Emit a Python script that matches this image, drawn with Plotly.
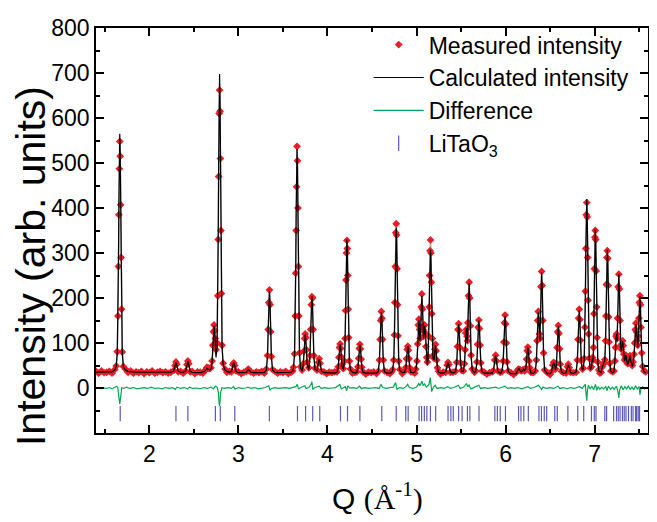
import plotly.graph_objects as go

# Q positions (1/Angstrom) of the refined profile, with measured and calculated intensities
q_fit = [
    1.40, 1.43, 1.46, 1.49, 1.52, 1.55, 1.58, 1.61,
    1.627, 1.639, 1.647, 1.652, 1.657, 1.662, 1.667, 1.672, 1.677, 1.682, 1.687, 1.695, 1.707,
    1.73, 1.76, 1.79, 1.82, 1.85, 1.88, 1.91, 1.94, 1.97, 2.00, 2.03, 2.06, 2.09, 2.12, 2.15, 2.18, 2.21, 2.24,
    2.273, 2.288, 2.298, 2.308, 2.323, 2.35, 2.38, 2.407, 2.422, 2.432, 2.442, 2.457,
    2.48, 2.51, 2.54, 2.57, 2.60, 2.62, 2.636, 2.646, 2.658, 2.670, 2.681,
    2.691, 2.704, 2.712, 2.719, 2.726, 2.733, 2.740, 2.748,
    2.760, 2.768, 2.773, 2.778, 2.783, 2.788, 2.793, 2.798, 2.803, 2.808, 2.816, 2.828,
    2.85, 2.87, 2.90, 2.922, 2.937, 2.947, 2.957, 2.972,
    3.00, 3.03, 3.06, 3.09, 3.102, 3.112, 3.122, 3.14, 3.17, 3.20, 3.23, 3.26, 3.29,
    3.313, 3.326, 3.334, 3.341, 3.348, 3.355, 3.362, 3.370, 3.383,
    3.41, 3.44, 3.47, 3.50, 3.53, 3.56, 3.59, 3.61,
    3.618, 3.630, 3.638, 3.643, 3.648, 3.653, 3.658, 3.663, 3.668, 3.673, 3.678, 3.686, 3.698,
    3.715, 3.728, 3.736, 3.743, 3.750, 3.757, 3.764, 3.772,
    3.790, 3.803, 3.811, 3.818, 3.825, 3.832, 3.839, 3.847, 3.860,
    3.882, 3.897, 3.907, 3.917, 3.932, 3.96, 3.99, 4.02, 4.05, 4.08,
    4.107, 4.120, 4.128, 4.135, 4.142, 4.149, 4.156, 4.164,
    4.178, 4.190, 4.198, 4.203, 4.208, 4.213, 4.218, 4.223, 4.228, 4.233, 4.238, 4.246, 4.258,
    4.28, 4.31, 4.329, 4.342, 4.350, 4.357, 4.364, 4.371, 4.378, 4.386, 4.399,
    4.43, 4.46, 4.49, 4.52, 4.55, 4.570, 4.583, 4.591, 4.598, 4.605, 4.612, 4.619, 4.627, 4.640,
    4.67, 4.70, 4.72, 4.732, 4.744, 4.752, 4.757, 4.762, 4.767, 4.772, 4.777, 4.782, 4.787, 4.792, 4.800, 4.812,
    4.84, 4.867, 4.880, 4.888, 4.895, 4.902, 4.909, 4.916, 4.924, 4.937, 4.96, 4.98, 4.992,
    5.005, 5.013, 5.020, 5.027, 5.034, 5.040, 5.046, 5.053, 5.060, 5.067, 5.073, 5.079, 5.085, 5.092, 5.099, 5.106, 5.114,
    5.122, 5.129, 5.137, 5.142, 5.147, 5.152, 5.157, 5.162, 5.167, 5.172, 5.177, 5.185, 5.197, 5.206, 5.213, 5.220, 5.227, 5.235, 5.248,
    5.27, 5.30, 5.329, 5.344, 5.354, 5.364, 5.379, 5.41,
    5.438, 5.451, 5.459, 5.466, 5.473, 5.480, 5.487, 5.495, 5.508,
    5.525, 5.538, 5.546, 5.553, 5.560, 5.567, 5.572, 5.577, 5.584, 5.591, 5.598, 5.605, 5.613, 5.626,
    5.65, 5.665, 5.678, 5.686, 5.693, 5.700, 5.707, 5.714, 5.722, 5.735,
    5.76, 5.79, 5.82, 5.85, 5.863, 5.878, 5.888, 5.898, 5.913, 5.94,
    5.960, 5.973, 5.981, 5.988, 5.995, 6.002, 6.009, 6.017, 6.030,
    6.06, 6.09, 6.12, 6.140, 6.150, 6.160, 6.175, 6.195, 6.205, 6.215, 6.228, 6.236, 6.243, 6.250, 6.257, 6.264, 6.272, 6.285,
    6.31, 6.333, 6.346, 6.354, 6.361, 6.368, 6.375, 6.381, 6.386, 6.391, 6.398, 6.405, 6.412, 6.419, 6.427, 6.440,
    6.47, 6.50, 6.515, 6.530, 6.540, 6.550, 6.562, 6.571, 6.579, 6.586, 6.593, 6.600, 6.607, 6.615, 6.628,
    6.65, 6.680, 6.695, 6.705, 6.715, 6.730, 6.76,
    6.793, 6.806, 6.814, 6.821, 6.828, 6.835, 6.842, 6.850, 6.863,
    6.872, 6.884, 6.892, 6.897, 6.902, 6.907, 6.912, 6.917, 6.922, 6.927, 6.932, 6.940, 6.952,
    6.965, 6.972, 6.978, 6.983, 6.988, 6.993, 6.998, 7.003, 7.008, 7.013, 7.018, 7.023, 7.028, 7.036, 7.048,
    7.06, 7.073, 7.088, 7.098, 7.108,
    7.115, 7.123, 7.128, 7.133, 7.138, 7.143, 7.148, 7.153, 7.158, 7.163, 7.171, 7.183, 7.205,
    7.218, 7.229, 7.235, 7.241, 7.247, 7.253, 7.258, 7.265, 7.272, 7.279, 7.286, 7.294, 7.301, 7.308, 7.315, 7.322, 7.329, 7.337,
    7.344, 7.352, 7.360, 7.370, 7.380, 7.388, 7.396, 7.404, 7.414, 7.424, 7.432, 7.443, 7.450, 7.457, 7.464, 7.471,
    7.478, 7.485, 7.491, 7.497, 7.503, 7.509, 7.515, 7.521, 7.529, 7.540, 7.555, 7.575,
]

calc = [
    35, 35, 35, 35, 35, 35, 36, 40,
    47, 78, 168, 279, 412, 523, 565, 523, 412, 279, 168, 78, 47,
    40, 37, 36, 35, 35, 35, 35, 35, 35, 35, 35, 35, 35, 35, 35, 35, 35, 35,
    37, 51, 57, 51, 37, 35, 35, 37, 52, 59, 52, 37,
    35, 34, 34, 34, 35, 37, 40, 44, 42, 41, 40,
    42, 55, 88, 122, 138, 122, 89, 68,
    92, 203, 342, 507, 645, 698, 645, 507, 342, 203, 92, 51,
    40, 37, 35, 37, 51, 57, 51, 37,
    34, 34, 34, 35, 39, 41, 39, 35, 34, 34, 34, 34, 34,
    40, 69, 127, 187, 216, 187, 127, 69, 40,
    35, 34, 34, 34, 34, 34, 35, 37,
    44, 74, 158, 263, 387, 491, 531, 491, 387, 263, 158, 74, 44,
    38, 51, 78, 106, 119, 106, 78, 52,
    41, 68, 122, 177, 204, 177, 122, 68, 42,
    38, 56, 64, 56, 38, 34, 34, 33, 33, 33,
    35, 45, 66, 87, 97, 87, 67, 48,
    41, 58, 108, 170, 244, 306, 330, 306, 244, 170, 108, 58, 40,
    35, 33, 35, 45, 65, 86, 96, 86, 65, 45, 35,
    33, 33, 33, 33, 33, 36, 59, 102, 146, 168, 146, 102, 59, 36,
    33, 33, 34, 39, 59, 114, 182, 262, 330, 356, 330, 262, 182, 114, 59, 39,
    34, 35, 44, 63, 83, 93, 83, 63, 44, 35, 34, 35, 40,
    58, 94, 132, 150, 120, 105, 125, 178, 205, 178, 125, 110, 122, 138, 122, 88, 60,
    50, 62, 104, 161, 228, 285, 307, 285, 228, 161, 104, 66, 62, 83, 95, 83, 63, 44, 35,
    33, 33, 36, 50, 57, 50, 36, 33,
    36, 54, 89, 125, 142, 125, 89, 55, 37,
    37, 51, 81, 117, 133, 112, 100, 140, 200, 232, 200, 134, 71, 40,
    34, 37, 55, 93, 131, 150, 131, 93, 55, 37,
    33, 33, 33, 33, 37, 61, 72, 61, 37, 33,
    37, 57, 98, 140, 160, 140, 98, 57, 37,
    32, 32, 32, 40, 43, 40, 36, 39, 42, 39, 43, 62, 81, 90, 81, 62, 43, 34,
    32, 36, 58, 101, 146, 168, 146, 112, 105, 147, 221, 257, 221, 147, 75, 39,
    32, 32, 35, 50, 57, 51, 40, 52, 86, 120, 137, 120, 86, 52, 36,
    32, 34, 46, 52, 46, 34, 32,
    36, 59, 104, 150, 173, 150, 104, 60, 40,
    42, 63, 129, 210, 307, 389, 420, 389, 307, 210, 129, 65, 41,
    45, 60, 66, 58, 85, 160, 258, 325, 352, 325, 258, 178, 112, 57, 38,
    35, 34, 48, 55, 56,
    61, 101, 159, 227, 285, 307, 285, 227, 159, 101, 54, 37, 34,
    36, 57, 84, 109, 120, 105, 150, 218, 253, 218, 145, 90, 82, 95, 104, 92, 72, 60,
    65, 73, 62, 52, 55, 66, 72, 62, 50, 48, 55, 70, 95, 125, 142, 125,
    100, 90, 110, 150, 185, 203, 180, 130, 75, 45, 36, 34,
]

obs = [
    37, 33, 38, 34, 35, 37, 33, 41,
    49, 81, 160, 270, 385, 487, 548, 515, 407, 290, 175, 80, 48,
    42, 35, 38, 33, 36, 34, 37, 32, 36, 34, 38, 33, 35, 37, 34, 36, 33, 35,
    39, 50, 58, 53, 36, 37, 33, 38, 52, 60, 54, 36,
    37, 32, 36, 35, 33, 38, 42, 46, 45, 43, 44,
    45, 60, 95, 125, 140, 128, 110, 85,
    100, 205, 330, 470, 610, 662, 615, 510, 350, 210, 95, 55,
    42, 35, 37, 36, 52, 56, 50, 38,
    36, 32, 35, 37, 40, 42, 38, 36, 33, 36, 34, 37, 33,
    42, 72, 130, 190, 218, 185, 125, 70, 41,
    37, 33, 36, 34, 37, 32, 35, 38,
    46, 76, 160, 255, 350, 447, 537, 505, 400, 270, 160, 78, 47,
    40, 54, 82, 110, 120, 112, 85, 58,
    45, 72, 130, 185, 203, 200, 130, 72, 44,
    40, 57, 65, 55, 37, 36, 32, 35, 34, 36,
    36, 47, 68, 90, 98, 88, 69, 52,
    43, 60, 110, 172, 240, 300, 328, 310, 250, 175, 112, 60, 42,
    33, 35, 36, 47, 66, 88, 97, 87, 64, 46, 36,
    31, 35, 34, 36, 32, 37, 62, 108, 150, 170, 155, 108, 62, 38,
    35, 32, 36, 41, 62, 118, 190, 270, 345, 365, 340, 265, 185, 116, 60, 41,
    32, 37, 46, 65, 86, 93, 84, 65, 45, 36, 36, 33, 42,
    60, 98, 140, 153, 130, 110, 135, 180, 209, 175, 130, 115, 125, 140, 120, 92, 68,
    58, 70, 115, 180, 250, 305, 329, 300, 235, 165, 110, 72, 66, 86, 97, 82, 62, 45, 37,
    31, 35, 35, 51, 57, 52, 35, 35,
    37, 57, 92, 130, 143, 128, 90, 56, 39,
    38, 54, 85, 122, 130, 115, 105, 145, 205, 235, 200, 138, 73, 42,
    35, 38, 58, 97, 135, 151, 132, 95, 56, 38,
    35, 31, 34, 36, 38, 62, 73, 60, 38, 35,
    36, 60, 102, 145, 162, 142, 100, 58, 38,
    34, 30, 35, 41, 42, 41, 38, 40, 41, 38, 44, 64, 83, 91, 80, 60, 45, 35,
    34, 38, 62, 105, 150, 170, 150, 120, 110, 150, 225, 259, 228, 150, 78, 40,
    34, 30, 36, 51, 57, 53, 42, 55, 90, 125, 139, 121, 87, 53, 37,
    34, 33, 47, 53, 45, 35, 34,
    35, 62, 108, 155, 175, 152, 106, 61, 42,
    44, 66, 135, 215, 310, 385, 412, 380, 290, 195, 120, 66, 44,
    47, 63, 68, 62, 90, 165, 265, 335, 350, 330, 260, 180, 112, 58, 40,
    33, 35, 47, 53, 56,
    63, 105, 160, 230, 290, 305, 288, 228, 158, 102, 55, 38, 36,
    38, 60, 90, 115, 120, 110, 155, 225, 253, 220, 150, 95, 86, 98, 105, 94, 75, 62,
    66, 73, 64, 54, 56, 67, 72, 63, 52, 50, 58, 75, 100, 130, 144, 125,
    105, 95, 115, 155, 190, 205, 185, 135, 78, 48, 38, 36,
]

# difference curve (obs - calc), plotted around zero
q_diff = [
    1.40, 1.43, 1.46, 1.49, 1.52, 1.55, 1.58, 1.61, 1.63, 1.645,
    1.655, 1.662, 1.667, 1.672, 1.68, 1.69, 1.71, 1.74, 1.78, 1.82,
    1.86, 1.90, 1.94, 1.98, 2.02, 2.06, 2.10, 2.14, 2.18, 2.22,
    2.26, 2.29, 2.31, 2.35, 2.39, 2.43, 2.45, 2.49, 2.53, 2.57,
    2.61, 2.65, 2.69, 2.72, 2.74, 2.76, 2.775, 2.783, 2.788, 2.793,
    2.80, 2.815, 2.84, 2.88, 2.92, 2.945, 2.96, 3.00, 3.04, 3.08,
    3.11, 3.14, 3.18, 3.22, 3.26, 3.30, 3.34, 3.355, 3.37, 3.41,
    3.45, 3.49, 3.53, 3.57, 3.61, 3.645, 3.66, 3.675, 3.70, 3.745,
    3.76, 3.79, 3.815, 3.825, 3.835, 3.86, 3.905, 3.93, 3.97, 4.01,
    4.05, 4.09, 4.14, 4.155, 4.20, 4.215, 4.23, 4.25, 4.29, 4.33,
    4.36, 4.38, 4.42, 4.46, 4.50, 4.54, 4.58, 4.60, 4.62, 4.66,
    4.70, 4.74, 4.765, 4.78, 4.81, 4.85, 4.88, 4.90, 4.92, 4.96,
    5.00, 5.025, 5.04, 5.06, 5.075, 5.09, 5.11, 5.14, 5.155, 5.17,
    5.19, 5.21, 5.23, 5.27, 5.31, 5.35, 5.38, 5.42, 5.47, 5.49,
    5.53, 5.56, 5.575, 5.59, 5.61, 5.65, 5.70, 5.72, 5.76, 5.80,
    5.84, 5.89, 5.92, 5.96, 5.995, 6.02, 6.06, 6.10, 6.14, 6.18,
    6.22, 6.25, 6.28, 6.32, 6.37, 6.39, 6.405, 6.42, 6.46, 6.50,
    6.54, 6.59, 6.61, 6.65, 6.69, 6.73, 6.77, 6.83, 6.86, 6.895,
    6.905, 6.912, 6.92, 6.93, 6.95, 6.97, 6.99, 7.01, 7.025, 7.04,
    7.06, 7.08, 7.10, 7.125, 7.14, 7.155, 7.18, 7.20, 7.22, 7.245,
    7.262, 7.272, 7.282, 7.30, 7.32, 7.34, 7.36, 7.38, 7.40, 7.42,
    7.44, 7.46, 7.48, 7.50, 7.51, 7.52, 7.54, 7.56, 7.575,
]

diff = [
    -1, 1, -2, 0, -1, 1, -2, 2, 4, 1,
    -12, -30, -36, -28, -8, 1, -1, 2, -1, 1,
    -2, 0, 1, -1, 2, -1, 0, -2, 1, -1,
    1, -3, 2, -1, 1, -2, 2, -1, 0, -2,
    1, -1, 2, -2, 4, 2, -10, -35, -40, -30,
    -10, 1, -1, 1, -1, 3, -2, 1, -1, 0,
    2, -1, 1, -2, 0, 1, 5, -5, -1, 1,
    -1, 0, 1, -1, 2, 3, 8, -2, 1, 5,
    -1, 1, 8, 14, -3, 1, 4, -1, 1, -1,
    0, 1, 8, -2, 3, -6, 5, 0, 1, -1,
    4, -1, 1, -1, 0, 1, -1, 8, 1, -1,
    1, 2, 12, -3, 1, -1, 3, 8, 1, -1,
    2, 10, 5, 15, 6, 9, 2, 8, 23, -8,
    2, 6, -1, 1, -1, 3, -1, 1, 6, -1,
    2, 10, 3, 7, -2, 1, 6, -1, 1, -1,
    1, 2, -1, 1, 4, -1, 1, -1, 1, -2,
    1, 3, -1, 1, 6, -1, -3, 2, -1, 1,
    -1, 4, -1, 1, -2, 1, -1, 3, -1, 8,
    -18, -28, -5, 6, -2, 4, -4, 8, -5, 3,
    -3, 2, -2, 3, -6, 4, -3, 2, -3, 4,
    -8, -22, -4, 5, -4, 3, -2, 4, -3, 2,
    -4, 5, -2, 3, -15, -2, 3, -2, 1,
]

# LiTaO3 reflection positions
q_refl = [
    1.672, 2.298, 2.432, 2.741, 2.796, 2.959, 3.347, 3.663, 3.754, 3.834,
    3.913, 4.146, 4.225, 4.364, 4.610, 4.772, 4.879, 4.906, 5.029, 5.057,
    5.088, 5.116, 5.156, 5.215, 5.354, 5.386, 5.413, 5.473, 5.512, 5.572,
    5.599, 5.702, 5.880, 5.908, 5.940, 5.999, 6.146, 6.173, 6.205, 6.256,
    6.375, 6.403, 6.435, 6.462, 6.553, 6.581, 6.700, 6.811, 6.878, 6.965,
    6.997, 7.016, 7.115, 7.135, 7.214, 7.246, 7.266, 7.286, 7.313, 7.333,
    7.353, 7.381, 7.413, 7.432, 7.460, 7.472, 7.490, 7.505,
]
refl_level = -57

assert len(q_fit) == len(calc) == len(obs)
assert len(q_diff) == len(diff)

FONT = "Liberation Sans, Arial, sans-serif"

fig = go.Figure()

# thin grey line joining the measured points
fig.add_trace(go.Scatter(x=q_fit, y=obs, mode='lines',
                         line=dict(color='#a8a8a8', width=1.5),
                         showlegend=False, hoverinfo='skip'))
fig.add_trace(go.Scatter(x=q_fit, y=obs, mode='markers',
                         name='Measured intensity',
                         marker=dict(symbol='diamond', size=6, color='#ec1c24')))
fig.add_trace(go.Scatter(x=q_fit, y=calc, mode='lines',
                         name='Calculated intensity',
                         line=dict(color='black', width=1.2)))
fig.add_trace(go.Scatter(x=q_diff, y=diff, mode='lines',
                         name='Difference',
                         line=dict(color='#00a651', width=1.2)))
fig.add_trace(go.Scatter(x=q_refl, y=[refl_level] * len(q_refl), mode='markers',
                         name='LiTaO<sub>3</sub>',
                         marker=dict(symbol='line-ns', size=11,
                                     line=dict(color='#5a5ab4', width=1.2))))

axis_style = dict(showline=True, linewidth=1.6, linecolor='black', mirror='allticks',
                  ticks='inside', ticklen=8, tickwidth=1.5, tickcolor='black',
                  showgrid=False, zeroline=False, ticklabeloverflow='allow',
                  tickfont=dict(family=FONT, size=23, color='black'))

fig.update_xaxes(range=[1.4, 7.6], tick0=0, dtick=1, ticklabelstandoff=0,
                 minor=dict(dtick=0.5, tick0=0, ticks='inside', ticklen=4, tickwidth=1.5,
                            tickcolor='black'),
                 **axis_style)
fig.update_yaxes(range=[-100, 800], tickvals=list(range(0, 801, 100)), ticklabelstandoff=0,
                 minor=dict(dtick=50, tick0=0, ticks='inside', ticklen=4, tickwidth=1.5,
                            tickcolor='black'),
                 **axis_style)

# the page body keeps its default 8px margin, so the figure is sized to fit the window
fig.update_layout(
    width=649, height=514,
    margin=dict(l=88, r=7, t=11, b=89),
    plot_bgcolor='white', paper_bgcolor='white',
    font=dict(family=FONT, color='black'),
    legend=dict(x=0.494, y=1.012, xanchor='left', yanchor='top',
                bgcolor='rgba(0,0,0,0)', font=dict(size=23, family=FONT),
                tracegroupgap=0, itemwidth=50),
    annotations=[
        dict(text='Intensity (arb. units)', xref='paper', yref='paper',
             x=-0.119, y=0.413, xanchor='center', yanchor='middle', textangle=-90,
             showarrow=False, font=dict(family=FONT, size=41, color='black')),
        dict(text="Q <span style='font-family:Liberation Serif'>(Å<sup>-1</sup>)</span>",
             xref='paper', yref='paper', x=0.51, y=-0.157,
             xanchor='center', yanchor='middle', showarrow=False,
             font=dict(family=FONT, size=30, color='black')),
    ],
)

fig.write_html("out.html")
